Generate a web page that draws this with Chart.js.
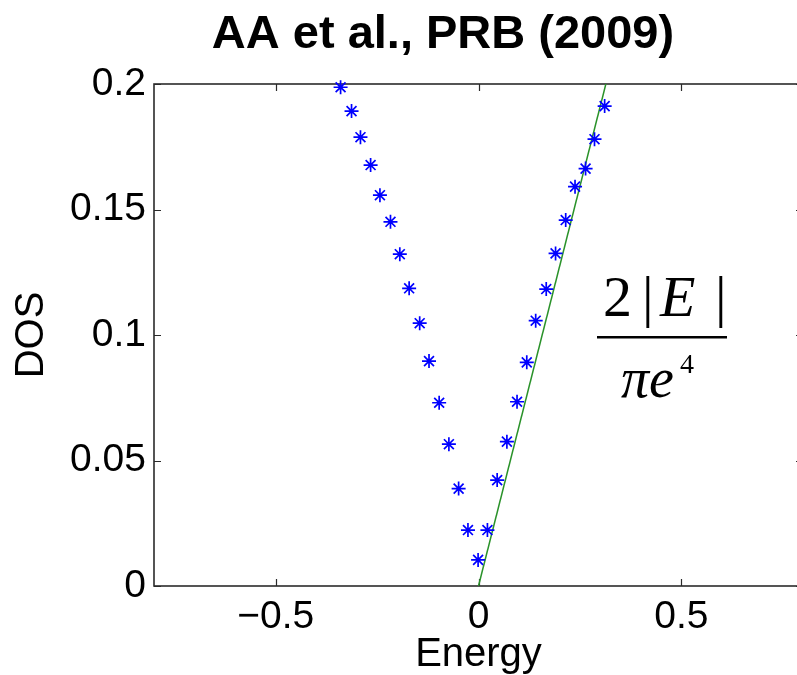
<!DOCTYPE html>
<html>
<head>
<meta charset="utf-8">
<script src="https://cdn.jsdelivr.net/npm/chart.js@4/dist/chart.umd.min.js"></script>
<style>
  html, body { margin: 0; padding: 0; background: #fff; overflow: hidden; }
  canvas { display: block; }
</style>
</head>
<body>
<canvas id="c" width="886" height="675"></canvas>
<script>
// ---- data ----
const chartTitle = 'AA et al., PRB (2009)';
const xAxisLabel = 'Energy';
const yAxisLabel = 'DOS';
const xTickValues = [-0.5, 0, 0.5];
const yTickValues = [0, 0.05, 0.1, 0.15, 0.2];

// asterisk series: negative-energy branch
const energyNeg = [-0.340, -0.313, -0.291, -0.266, -0.243, -0.217, -0.194, -0.171, -0.145, -0.122, -0.097, -0.073, -0.049, -0.026];
const dosNeg    = [0.1987, 0.1892, 0.1788, 0.1677, 0.1557, 0.1451, 0.1322, 0.1186, 0.1047, 0.0896, 0.0730, 0.0565, 0.0388, 0.0223];
// asterisk series: positive-energy branch
const energyPos = [-0.001, 0.022, 0.046, 0.070, 0.095, 0.119, 0.141, 0.167, 0.190, 0.215, 0.238, 0.264, 0.286, 0.311];
const dosPos    = [0.0104, 0.0223, 0.0422, 0.0575, 0.0734, 0.0891, 0.1057, 0.1183, 0.1325, 0.1458, 0.1591, 0.1663, 0.1780, 0.1912];
// green reference line 2|E|/(pi e^4)
const lineEnergy = [0, 0.314];
const lineDos    = [0, 0.2];

const xMin = -0.8, xMax = 0.8, yMin = 0, yMax = 0.2;

const toPts = (xs, ys) => xs.map((x, i) => ({ x: x, y: ys[i] }));
const fmt = v => (v < 0 ? '\u2212' + String(Math.abs(v)) : String(v));

Chart.defaults.color = '#000';
Chart.defaults.font.family = '"Liberation Sans", Arial, sans-serif';

const framePlugin = {
  id: 'frame',
  beforeDatasetsDraw(chart) {
    const { ctx, chartArea: a, scales } = chart;
    const tl = 7;
    ctx.save();
    ctx.strokeStyle = '#2b2b2b';
    ctx.lineWidth = 1.2;
    ctx.beginPath();
    xTickValues.forEach(v => {
      const px = Math.round(scales.x.getPixelForValue(v)) + 0.5;
      ctx.moveTo(px, a.bottom); ctx.lineTo(px, a.bottom - tl);
      ctx.moveTo(px, a.top); ctx.lineTo(px, a.top + tl);
    });
    yTickValues.forEach(v => {
      const py = Math.round(scales.y.getPixelForValue(v)) + 0.5;
      ctx.moveTo(a.left, py); ctx.lineTo(a.left + tl, py);
      ctx.moveTo(a.right, py); ctx.lineTo(a.right - tl, py);
    });
    ctx.stroke();
    ctx.lineWidth = 1.6;
    ctx.strokeRect(a.left, a.top, a.right - a.left, a.bottom - a.top);
    ctx.restore();
  }
};

const textPlugin = {
  id: 'texts',
  afterDraw(chart) {
    const ctx = chart.ctx;
    ctx.save();
    ctx.fillStyle = '#000';
    // chart title
    ctx.textAlign = 'center';
    ctx.textBaseline = 'alphabetic';
    ctx.font = 'bold 47px "Liberation Sans", Arial, sans-serif';
    ctx.fillText(chartTitle, 443, 48);
    // formula 2|E| / (pi e^4)
    ctx.textAlign = 'left';
    ctx.font = '58px "Liberation Serif", "Times New Roman", serif';
    ctx.fillText('2', 603, 316);
    ctx.fillText('|', 642, 316);
    ctx.fillText('|', 715, 316);
    ctx.font = 'italic 58px "Liberation Serif", "Times New Roman", serif';
    ctx.fillText('E', 660, 316);
    ctx.font = 'italic 56px "Liberation Serif", "Times New Roman", serif';
    ctx.fillText('\u03c0e', 621, 397);
    ctx.font = '28px "Liberation Serif", "Times New Roman", serif';
    ctx.fillText('4', 680, 373);
    ctx.fillRect(597, 336, 130, 2.5);
    ctx.restore();
  }
};

new Chart(document.getElementById('c'), {
  type: 'scatter',
  data: {
    datasets: [
      {
        label: 'DOS (E<0)',
        data: toPts(energyNeg, dosNeg),
        pointStyle: 'star',
        pointRadius: 7,
        pointHoverRadius: 7,
        borderColor: '#0000ff',
        backgroundColor: 'rgba(0,0,0,0)',
        pointBorderWidth: 1.7,
        clip: false,
        order: 1
      },
      {
        label: 'DOS (E>0)',
        data: toPts(energyPos, dosPos),
        pointStyle: 'star',
        pointRadius: 7,
        pointHoverRadius: 7,
        borderColor: '#0000ff',
        backgroundColor: 'rgba(0,0,0,0)',
        pointBorderWidth: 1.7,
        clip: false,
        order: 1
      },
      {
        type: 'line',
        label: '2|E|/(pi e^4)',
        data: toPts(lineEnergy, lineDos),
        showLine: true,
        borderColor: '#2a922a',
        borderWidth: 1.5,
        pointRadius: 0,
        fill: false,
        order: 2
      }
    ]
  },
  options: {
    responsive: false,
    animation: false,
    devicePixelRatio: 1,
    layout: { padding: { left: 0, right: 83, top: 84, bottom: 0 } },
    plugins: {
      legend: { display: false },
      tooltip: { enabled: false },
      title: { display: false }
    },
    scales: {
      x: {
        type: 'linear',
        min: xMin,
        max: xMax,
        afterBuildTicks: axis => { axis.ticks = xTickValues.map(v => ({ value: v })); },
        afterFit: axis => { axis.height = 89; },
        grid: { display: false, drawTicks: false },
        border: { display: false },
        ticks: { font: { size: 39 }, padding: 8, maxRotation: 0, callback: v => fmt(v) },
        title: { display: true, text: xAxisLabel, font: { size: 40, lineHeight: 1 }, padding: { top: 0, bottom: 0 } }
      },
      y: {
        type: 'linear',
        min: yMin,
        max: yMax,
        afterBuildTicks: axis => { axis.ticks = yTickValues.map(v => ({ value: v })); },
        afterFit: axis => { axis.width = 154; },
        grid: { display: false, drawTicks: false },
        border: { display: false },
        ticks: { font: { size: 39 }, padding: 8, callback: v => fmt(v) },
        title: { display: true, text: yAxisLabel, font: { size: 40, lineHeight: 1.2 }, padding: { top: 8, bottom: 0 } }
      }
    }
  },
  plugins: [framePlugin, textPlugin]
});
</script>
</body>
</html>
